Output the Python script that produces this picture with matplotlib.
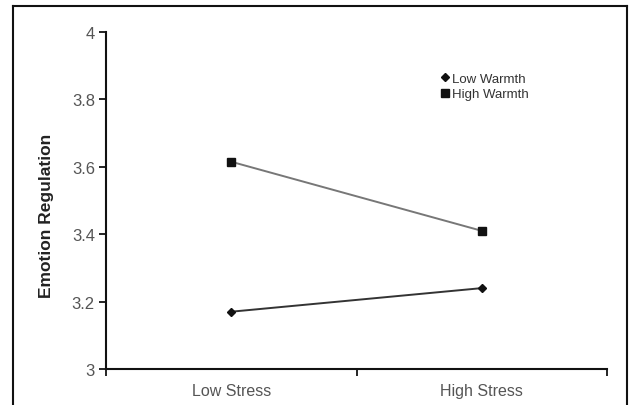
import matplotlib
matplotlib.use("Agg")
import matplotlib.pyplot as plt
from matplotlib.lines import Line2D

plt.rcParams['font.family'] = ['Liberation Sans', 'DejaVu Sans']

categories = ["Low Stress", "High Stress"]
low_warmth = [3.17, 3.24]
high_warmth = [3.615, 3.41]
y_ticks = [3, 3.2, 3.4, 3.6, 3.8, 4]
y_labels = ["3", "3.2", "3.4", "3.6", "3.8", "4"]

fig = plt.figure(figsize=(6.34, 4.06), dpi=100)
ax = fig.add_axes([106/634, 1 - 370/406, 501/634, 337/406])

xpos = [0.5, 1.5]
ax.plot(xpos, low_warmth, color="#333333", lw=1.4, marker="D", ms=4.5,
        markeredgecolor="#111111", markerfacecolor="#111111", label="Low Warmth")
ax.plot(xpos, high_warmth, color="#777777", lw=1.4, marker="s", ms=6,
        markeredgecolor="#111111", markerfacecolor="#111111", label="High Warmth")

ax.set_xlim(0, 2)
ax.set_ylim(3, 4)
ax.set_xticks([0, 1, 2])
ax.set_xticklabels([])
ax.set_xticks(xpos, minor=True)
ax.set_xticklabels(categories, minor=True, fontsize=11.5, color="#555555")
ax.tick_params(axis="x", which="minor", length=0, pad=10)
ax.tick_params(axis="x", which="major", length=5, width=1.2, direction="out")
ax.set_yticks(y_ticks)
ax.set_yticklabels(y_labels, fontsize=12, color="#555555")
ax.tick_params(axis="y", length=5, width=1.2, direction="out", pad=3)

for s in ["top", "right"]:
    ax.spines[s].set_visible(False)
for s in ["left", "bottom"]:
    ax.spines[s].set_linewidth(1.5)
    ax.spines[s].set_color("#111111")

fig.text(47/634, 1 - 216/406, "Emotion Regulation", rotation=90, fontsize=12.5,
         fontweight="bold", color="#222222", ha="center", va="center")

leg = ax.legend(loc="upper left", bbox_to_anchor=((434 - 106)/501, (370 - 67)/337),
                frameon=False, fontsize=9.5, handlelength=0.7, handletextpad=0.2,
                labelspacing=0.25, borderpad=0)
for h in leg.get_lines():
    h.set_linestyle("none")
for t in leg.get_texts():
    t.set_color("#333333")

# outer frame around the figure
fig.add_artist(Line2D([13/634, 13/634], [0, 1 - 7/406], color="#111111", lw=1.5))
fig.add_artist(Line2D([13/634, 627/634], [1 - 7/406, 1 - 7/406], color="#111111", lw=1.5))
fig.add_artist(Line2D([627/634, 627/634], [0, 1 - 7/406], color="#111111", lw=1.5))

fig.savefig("out.png", dpi=100)
